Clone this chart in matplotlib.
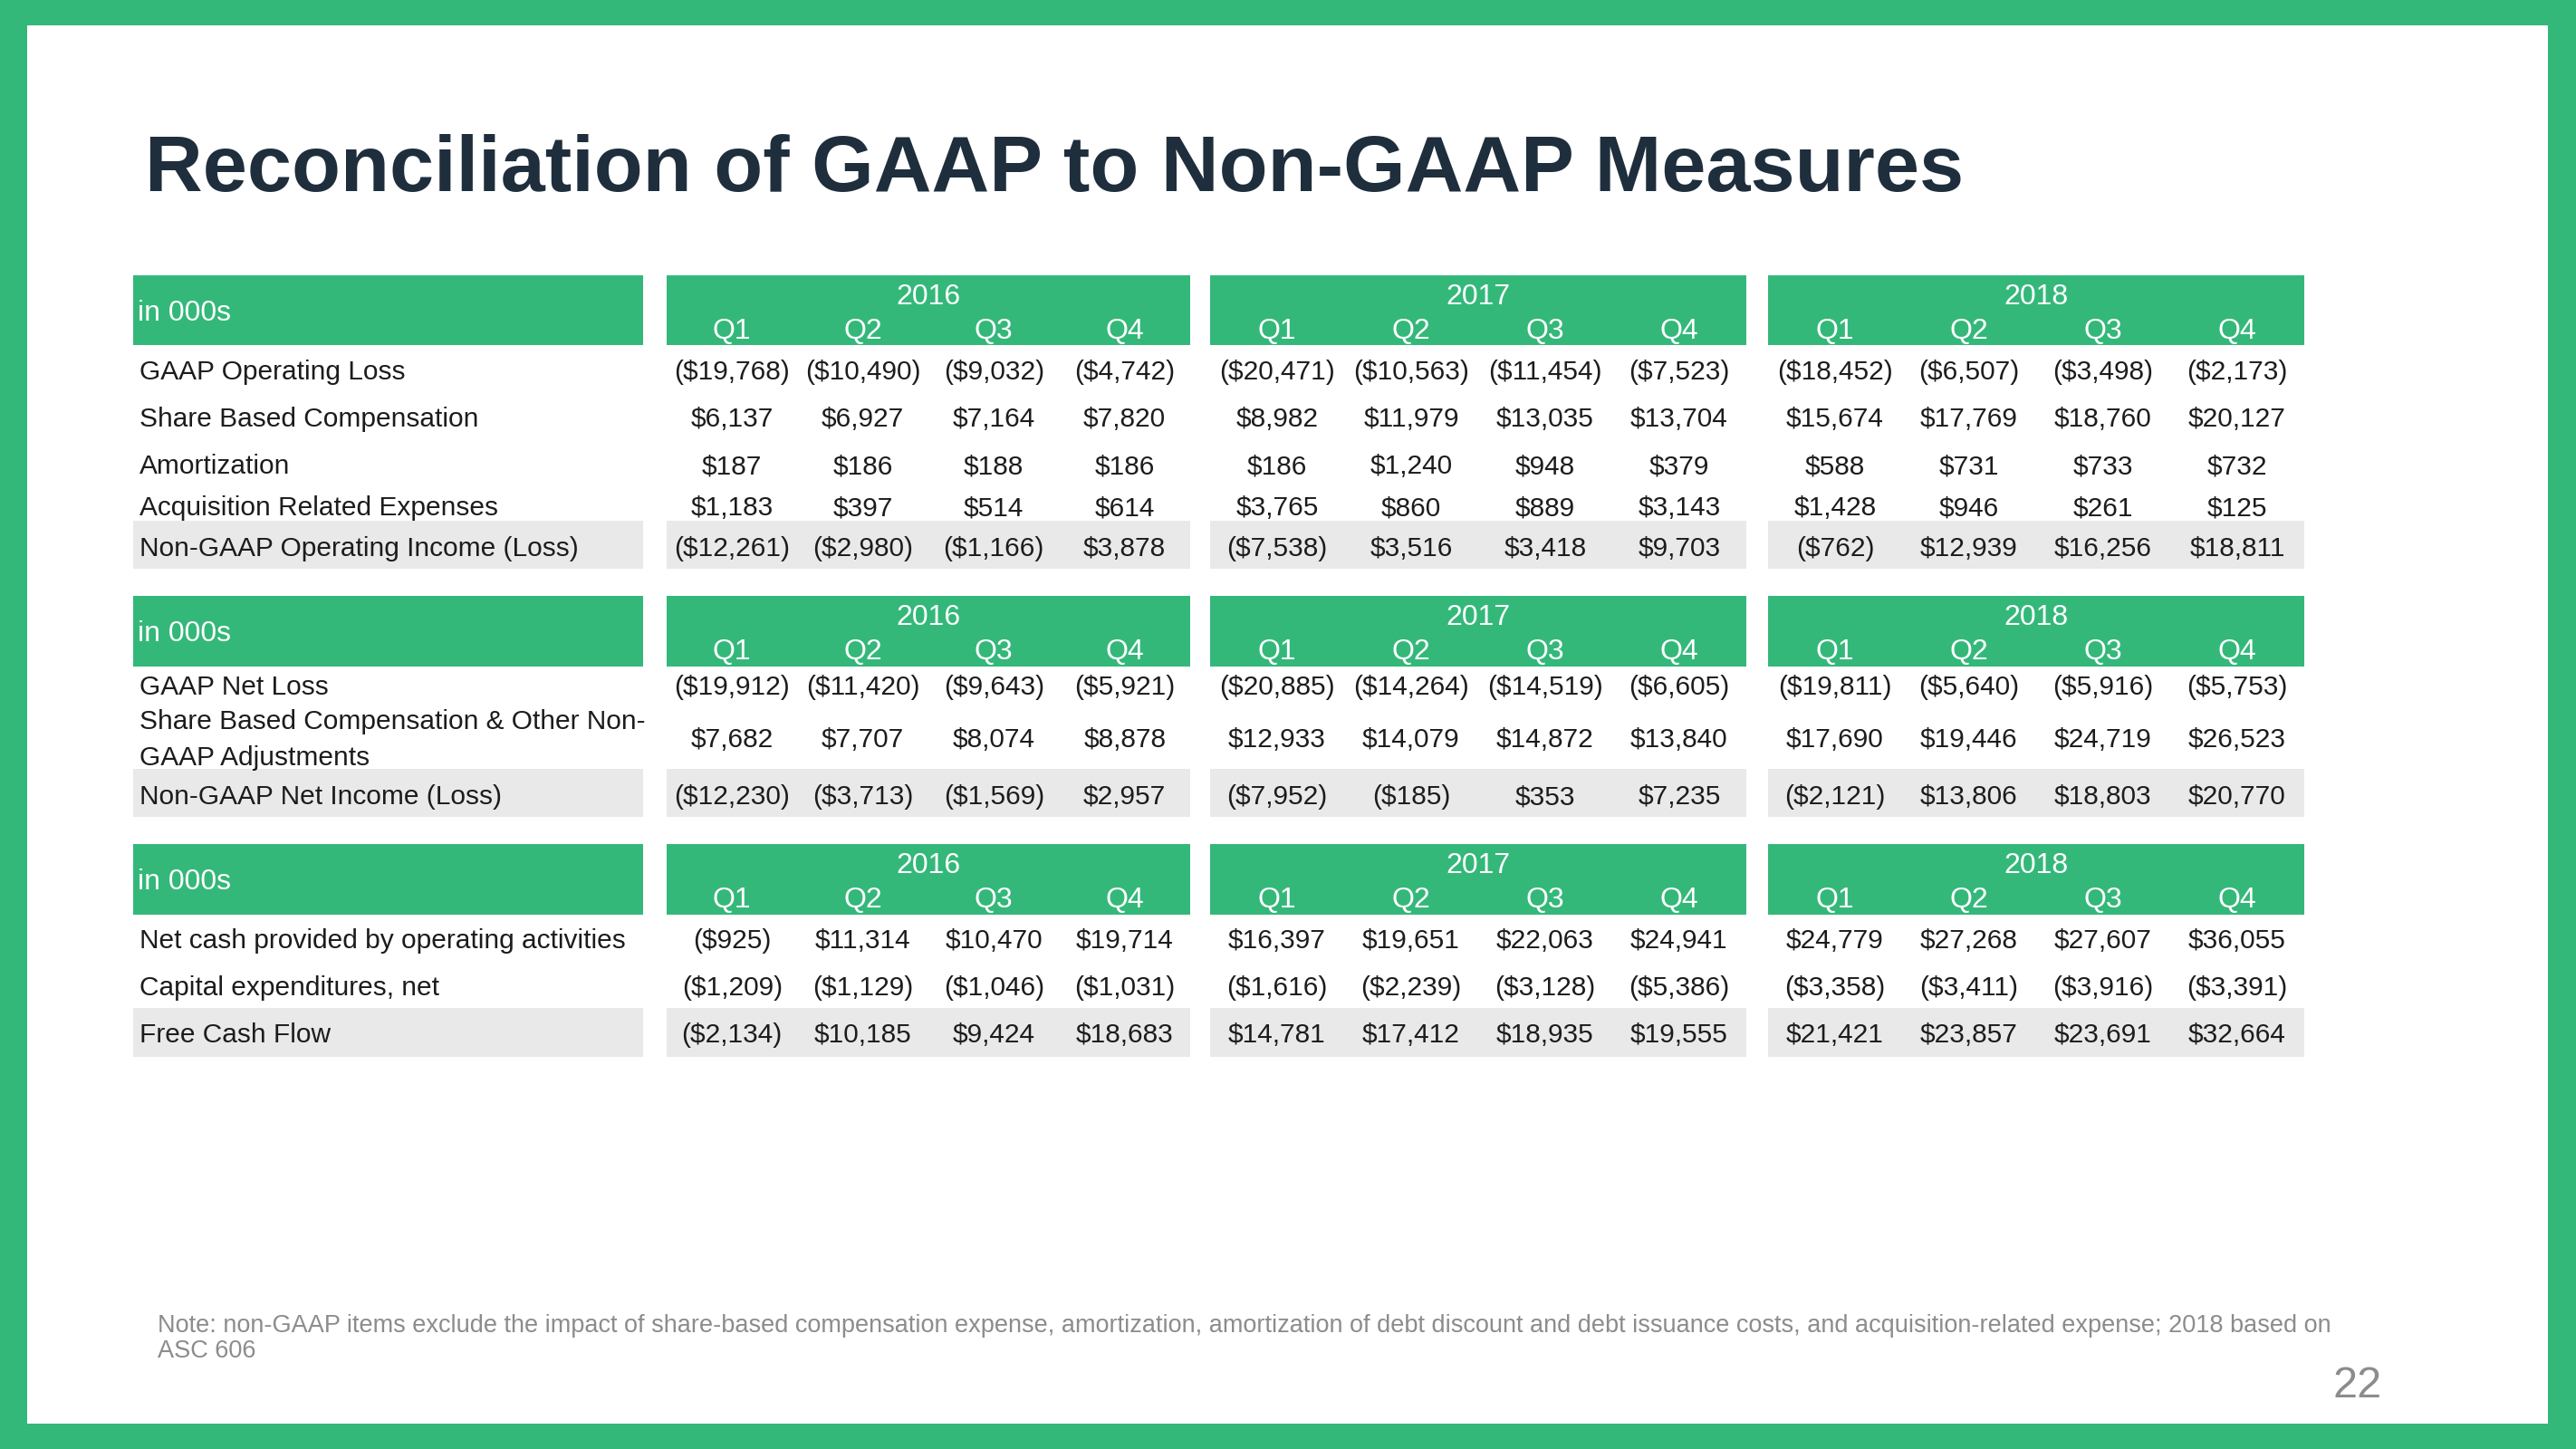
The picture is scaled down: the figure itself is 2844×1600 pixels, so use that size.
import matplotlib
matplotlib.use("Agg")
import matplotlib.pyplot as plt
from matplotlib.patches import Rectangle

# ---------------- data ----------------
title = "Reconciliation of GAAP to Non-GAAP Measures"
years = ["2016", "2017", "2018"]
quarters = ["Q1", "Q2", "Q3", "Q4"]
unit_label = "in 000s"

t1_labels = ["GAAP Operating Loss", "Share Based Compensation", "Amortization",
             "Acquisition Related Expenses", "Non-GAAP Operating Income (Loss)"]
t1_gaap_op_loss = [-19768, -10490, -9032, -4742, -20471, -10563, -11454, -7523, -18452, -6507, -3498, -2173]
t1_sbc = [6137, 6927, 7164, 7820, 8982, 11979, 13035, 13704, 15674, 17769, 18760, 20127]
t1_amort = [187, 186, 188, 186, 186, 1240, 948, 379, 588, 731, 733, 732]
t1_acq = [1183, 397, 514, 614, 3765, 860, 889, 3143, 1428, 946, 261, 125]
t1_nongaap_op = [-12261, -2980, -1166, 3878, -7538, 3516, 3418, 9703, -762, 12939, 16256, 18811]

t2_labels = ["GAAP Net Loss", "Share Based Compensation & Other Non-\nGAAP Adjustments",
             "Non-GAAP Net Income (Loss)"]
t2_net_loss = [-19912, -11420, -9643, -5921, -20885, -14264, -14519, -6605, -19811, -5640, -5916, -5753]
t2_sbc_other = [7682, 7707, 8074, 8878, 12933, 14079, 14872, 13840, 17690, 19446, 24719, 26523]
t2_nongaap_ni = [-12230, -3713, -1569, 2957, -7952, -185, 353, 7235, -2121, 13806, 18803, 20770]

t3_labels = ["Net cash provided by operating activities", "Capital expenditures, net", "Free Cash Flow"]
t3_ocf = [-925, 11314, 10470, 19714, 16397, 19651, 22063, 24941, 24779, 27268, 27607, 36055]
t3_capex = [-1209, -1129, -1046, -1031, -1616, -2239, -3128, -5386, -3358, -3411, -3916, -3391]
t3_fcf = [-2134, 10185, 9424, 18683, 14781, 17412, 18935, 19555, 21421, 23857, 23691, 32664]

note_lines = ["Note: non-GAAP items exclude the impact of share-based compensation expense, amortization, "
              "amortization of debt discount and debt issuance costs, and acquisition-related expense; 2018 based on",
              "ASC 606"]
page_number = "22"

# ---------------- style ----------------
GREEN = "#34B87A"
GREY = "#E9E9E9"
TITLE_C = "#1F2E3C"
TEXT_C = "#1C1C1C"
NOTE_C = "#8C8C8C"
FONT = ["Liberation Sans", "DejaVu Sans"]
BODY = 21.5
HEAD = 23
PX = 100 / 72.0  # px per pt


def fmt(v):
    return "(${:,})".format(-v) if v < 0 else "${:,}".format(v)


fig = plt.figure(figsize=(28.44, 16), dpi=100)
fig.patch.set_facecolor(GREEN)
ax = fig.add_axes([0, 0, 1, 1])
ax.set_xlim(0, 2844)
ax.set_ylim(1600, 0)
ax.axis("off")

ax.add_patch(Rectangle((30, 28), 2813 - 30, 1572 - 28, facecolor="white", edgecolor="none", zorder=0))


def put(x, yc, s, size, color=TEXT_C, ha="center", weight="normal", ls=1.2):
    # vertical centre on digit/cap height
    off = 0.105 * size * PX
    ax.text(x, yc + off, s, fontsize=size, color=color, ha=ha, va="center",
            family=FONT, fontweight=weight, linespacing=ls, zorder=3)


# title
ax.text(160, 211, title, fontsize=63.5, fontweight="bold", color=TITLE_C,
        family=FONT, ha="left", va="baseline")

label_x0, label_x1 = 147, 710
blocks = [(736, 1314), (1336, 1928), (1952, 2544)]

tables = [
    dict(head=(304, 381), labels=t1_labels,
         rows=[t1_gaap_op_loss, t1_sbc, t1_amort, t1_acq, t1_nongaap_op],
         ys=[408, 460, 512, 558, 603], band=(575, 628)),
    dict(head=(658, 736), labels=t2_labels,
         rows=[t2_net_loss, t2_sbc_other, t2_nongaap_ni],
         ys=[756, 814, 877], band=(849, 902)),
    dict(head=(932, 1010), labels=t3_labels,
         rows=[t3_ocf, t3_capex, t3_fcf],
         ys=[1036, 1088, 1140], band=(1113, 1167)),
]

for t in tables:
    h0, h1 = t["head"]
    b0, b1 = t["band"]
    # header + band backgrounds
    ax.add_patch(Rectangle((label_x0, h0), label_x1 - label_x0, h1 - h0, facecolor=GREEN, edgecolor="none", zorder=1))
    ax.add_patch(Rectangle((label_x0, b0), label_x1 - label_x0, b1 - b0, facecolor=GREY, edgecolor="none", zorder=1))
    put(152, (h0 + h1) / 2, unit_label, HEAD, color="white", ha="left")
    for bi, (x0, x1) in enumerate(blocks):
        ax.add_patch(Rectangle((x0, h0), x1 - x0, h1 - h0, facecolor=GREEN, edgecolor="none", zorder=1))
        ax.add_patch(Rectangle((x0, b0), x1 - x0, b1 - b0, facecolor=GREY, edgecolor="none", zorder=1))
        put((x0 + x1) / 2, h0 + 21, years[bi], HEAD, color="white")
        w = (x1 - x0) / 4.0
        for qi, q in enumerate(quarters):
            put(x0 + w * (qi + 0.5), h0 + 59, q, HEAD, color="white")
    # rows
    for lab, vals, y in zip(t["labels"], t["rows"], t["ys"]):
        put(154, y, lab, BODY, ha="left", ls=1.53)
        for bi, (x0, x1) in enumerate(blocks):
            w = (x1 - x0) / 4.0
            for qi in range(4):
                put(x0 + w * (qi + 0.5), y, fmt(vals[bi * 4 + qi]), BODY)

# note
put(174, 1461, note_lines[0], 19.5, color=NOTE_C, ha="left")
put(174, 1489, note_lines[1], 19.5, color=NOTE_C, ha="left")
# page number
put(2630, 1525, page_number, 35, color=NOTE_C, ha="right")

fig.savefig("out.png", dpi=100, facecolor=fig.get_facecolor())
